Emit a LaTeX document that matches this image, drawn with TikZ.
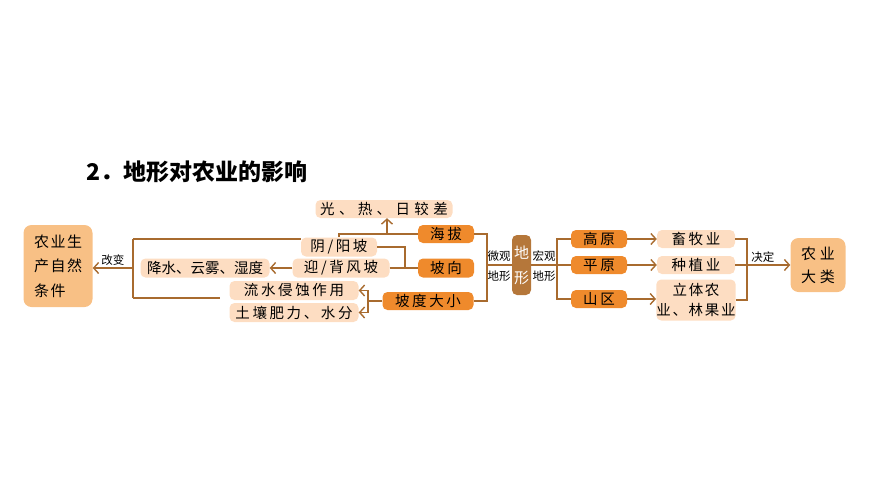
\documentclass[tikz,border=0pt]{standalone}
\usepackage{fontspec}
\setmainfont{Noto Sans CJK SC}
\usepackage{tikz}
\usetikzlibrary{arrows.meta}
\usetikzlibrary{positioning}
\definecolor{dkor}{HTML}{EF8A2C}
\definecolor{ltor}{HTML}{FDDDC2}
\definecolor{bgor}{HTML}{F8C085}
\definecolor{lnbr}{HTML}{A86B2F}
\definecolor{dxbr}{HTML}{B5773A}

\begin{document}
\begin{tikzpicture}[x=1pt,y=-1pt,font=\fontsize{14}{17}\selectfont,
  every node/.style={rounded corners=5pt,inner sep=0pt},
  wide/.style={font=\fontsize{14.5}{17}\selectfont\addfontfeatures{LetterSpace=18}},
  dark/.style={fill=dkor,minimum width=56pt,minimum height=18pt,wide},
  pale/.style={fill=ltor,minimum height=19pt,wide},
  big/.style={fill=bgor,rounded corners=8pt},
  link/.style={draw=lnbr,line width=1.4pt},
  tip/.style={link,-{Straight Barb[length=5pt,width=11pt]}},
  small/.style={font=\fontsize{11.5}{13}\selectfont}]
  \useasboundingbox (0,0) rectangle (870,490);
  \node[anchor=west,font=\fontsize{23}{26}\selectfont\bfseries] (title) at (86,172){2．地形对农业的影响};

  \node (ziran) at (58,266)[big,minimum width=69pt,minimum height=82pt,align=left,
    font=\fontsize{15}{24.5}\selectfont\addfontfeatures{LetterSpace=10}]{农业生\\产自然\\条件};
  \node (jiangshui) at (205,268)[pale,minimum width=129pt,font=\fontsize{14.5}{17}\selectfont]{降水、云雾、湿度};
  \node (yinyang) at (339,247)[pale,minimum width=76pt]{阴/阳坡};
  \node (yingbei) at (341,268)[pale,minimum width=97pt]{迎/背风坡};
  \node (liushui) at (294,290.5)[pale,minimum width=129pt]{流水侵蚀作用};
  \node (turang) at (294,312.5)[pale,minimum width=129pt]{土壤肥力、水分};
  \node (guangre) at (384,209)[pale,minimum width=137pt,minimum height=18pt,
    font=\fontsize{14.5}{17}\selectfont\addfontfeatures{LetterSpace=30}]{光、热、日较差};

  \node (haiba) at (446,234)[dark]{海拔};
  \node (poxiang) at (446,268)[dark,minimum height=19pt]{坡向};
  \node (podu) at (428,301)[dark,minimum width=91pt]{坡度大小};

  \node (dixing) at (521.5,265)[fill=dxbr,text=white,minimum width=19pt,minimum height=60pt,
    align=center,font=\fontsize{15}{25}\selectfont]{地\\形};
  \node[small] (weiguan) at (499,256){微观};
  \node[small] (wdixing) at (499,276){地形};
  \node[small] (hongguan) at (544,256){宏观};
  \node[small] (hdixing) at (544,276){地形};

  \node (gaoyuan) at (599,239)[dark]{高原};
  \node (pingyuan) at (599,265)[dark]{平原};
  \node (shanqu) at (599,299)[dark]{山区};
  \node (xumu) at (696,239)[pale,minimum width=78pt,minimum height=18pt]{畜牧业};
  \node (zhongzhi) at (696,265)[pale,minimum width=78pt,minimum height=18pt]{种植业};
  \node (liti) at (696,300)[pale,minimum width=78pt,minimum height=41pt,align=center,
    font=\fontsize{14.5}{20}\selectfont\addfontfeatures{LetterSpace=12}]{立体农\\业、林果业};
  \node (dalei) at (818,265)[big,minimum width=55pt,minimum height=54pt,align=center,
    font=\fontsize{15}{23}\selectfont\addfontfeatures{LetterSpace=25}]{农业\\大类};

  \coordinate (ltop) at (133,239);
  \coordinate (lbot) at (133,298);
  \coordinate (px) at (405,0);
  \coordinate (pd) at (368,0);
  \coordinate (mx) at (487,0);
  \coordinate (nx) at (557,0);
  \coordinate (rx) at (747,0);

  \draw[link](ltop)--(lbot);
  \draw[link](ltop)--(yinyang.west |- ltop);
  \draw[link](lbot)--([xshift=-9pt]liushui.west |- lbot);
  \draw[tip](ltop |- jiangshui.west)--(ziran.east |- jiangshui.west)
    node[small,midway,above=2pt](gaibian){改变};
  \draw[tip](yingbei.west)--(jiangshui.east);
  \draw[link](haiba.west)-|(yinyang.north);
  \draw[tip]([xshift=3pt]guangre.south |- haiba.west)--([xshift=3pt]guangre.south);
  \draw[link](yinyang.east)-|(px |- poxiang.west)--(poxiang.west);
  \draw[link](yingbei.east)--(px |- yingbei.east);
  \draw[link](podu.west)--(pd |- podu.west);
  \draw[tip](pd |- podu.west)|-(liushui.east);
  \draw[tip](pd |- podu.west)|-(turang.east);

  \draw[link](haiba.east)-|(mx |- podu.east)--(podu.east);
  \draw[link](mx |- dixing.west)--(dixing.west);
  \draw[link](dixing.east)--(nx |- dixing.east);
  \draw[link](gaoyuan.west)-|(nx |- shanqu.west)--(shanqu.west);
  \draw[link](pingyuan.west)--(nx |- pingyuan.west);
  \draw[tip](gaoyuan.east)--(xumu.west);
  \draw[tip](pingyuan.east)--(zhongzhi.west);
  \draw[tip](shanqu.east)--(liti.west |- shanqu.east);
  \draw[link](xumu.east)-|(rx |- liti.east)--(liti.east);
  \draw[tip](zhongzhi.east)--(dalei.west)
    node[small,midway,above=2pt](jueding){决定};
\end{tikzpicture}
\end{document}
